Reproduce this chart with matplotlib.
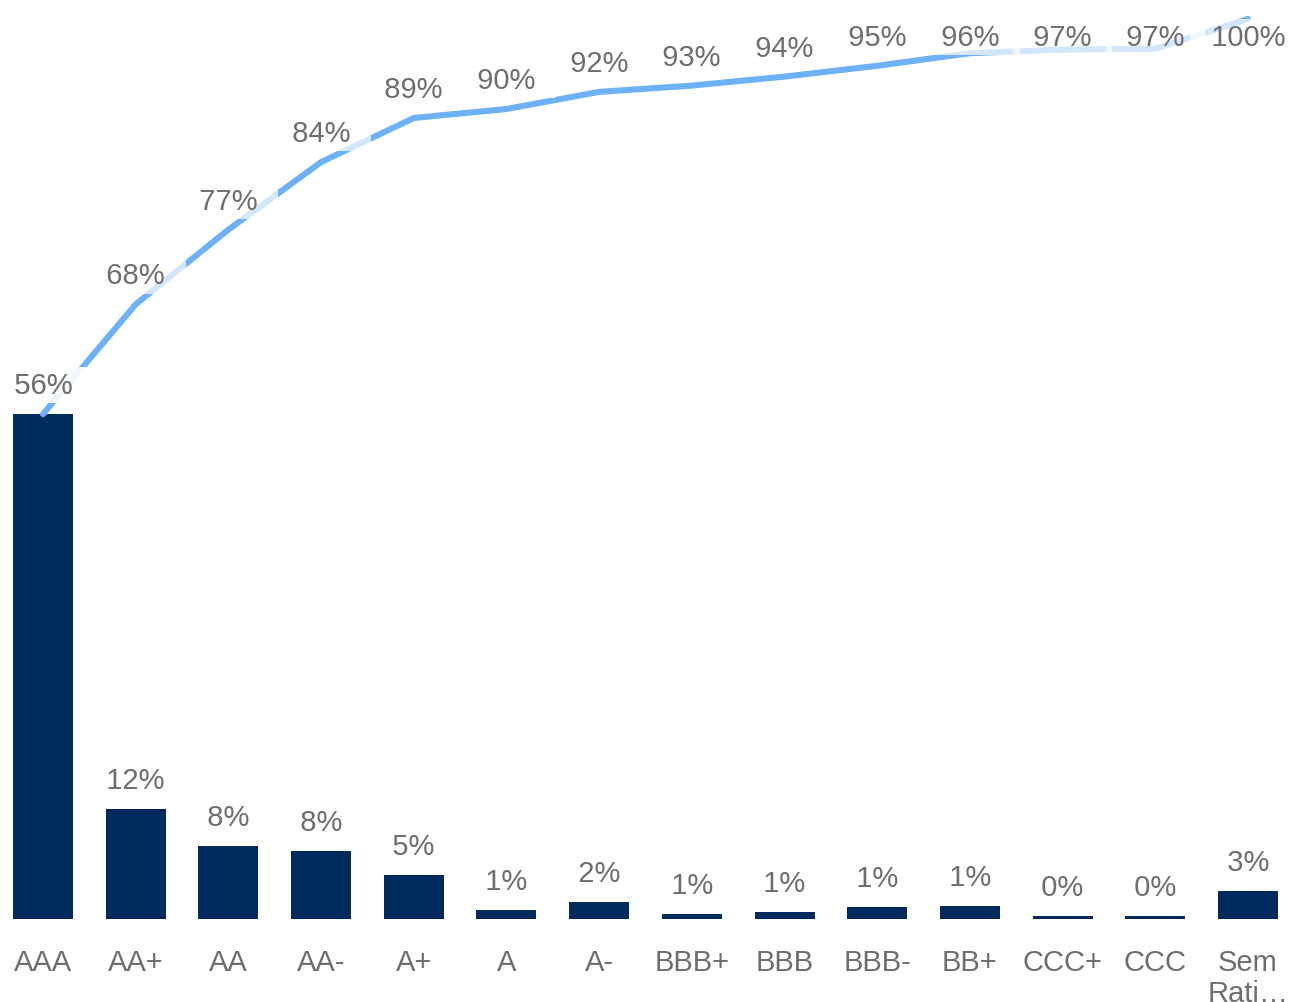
import matplotlib
matplotlib.use("Agg")
import matplotlib.pyplot as plt
import numpy as np

categories = ["AAA", "AA+", "AA", "AA-", "A+", "A", "A-", "BBB+", "BBB",
              "BBB-", "BB+", "CCC+", "CCC", "Sem\nRati…"]
share = [56.1, 12.2, 8.1, 7.6, 4.9, 1.0, 1.9, 0.6, 0.8, 1.3, 1.4, 0.3, 0.3, 3.1]
cumulative = [56.1, 68.3, 76.6, 84.1, 89.0, 90.0, 91.9, 92.6, 93.6, 94.8,
              96.2, 96.6, 96.7, 100.0]

BAR_COLOR = "#012B5D"
LINE_COLOR = "#6DB1F8"
TEXT_COLOR = "#6E6E6E"
FONT = ["Liberation Sans", "DejaVu Sans"]
FS = 21

plt.rcParams["font.family"] = FONT

fig = plt.figure(figsize=(12.91, 10.03), dpi=100)
ax = fig.add_axes([0, 83 / 1003, 1, 920 / 1003])
x = np.arange(len(categories))

ax.bar(x, share, width=0.647, color=BAR_COLOR, zorder=2)
ax.plot(x, cumulative, color=LINE_COLOR, lw=4.4, solid_capstyle="round",
        solid_joinstyle="round", zorder=3, clip_on=False)

ax.set_xlim(-0.464, 13.464)
ax.set_ylim(0, 920 / 9)

off = 21 / 9
cap = (920 - 46) / 9
box = dict(boxstyle="square,pad=0.15", fc="white", ec="none", alpha=0.7)

for xi, v in zip(x, share):
    ax.text(xi, v + off, f"  {round(v)}%  ", ha="center", va="baseline",
            fontsize=FS, color=TEXT_COLOR, bbox=box, zorder=4)

for xi, v in zip(x, cumulative):
    ax.text(xi, min(v + off, cap), f"  {round(v)}%  ", ha="center",
            va="baseline", fontsize=FS, color=TEXT_COLOR, bbox=box, zorder=5)

ax.set_xticks(x)
ax.set_xticklabels(categories, fontsize=FS, color=TEXT_COLOR, linespacing=1.12)
ax.tick_params(axis="x", length=0, pad=20.8)
ax.set_yticks([])
for s in ax.spines.values():
    s.set_visible(False)

fig.savefig("out.png", dpi=100)
